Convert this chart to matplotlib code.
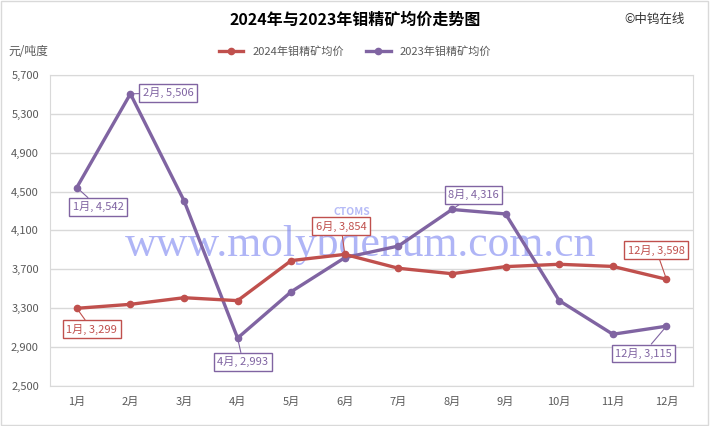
import matplotlib.pyplot as plt
from matplotlib.patches import Rectangle

plt.rcParams['font.family'] = ['Noto Sans CJK SC', 'DejaVu Sans']

# 数据
months = ['1月', '2月', '3月', '4月', '5月', '6月', '7月', '8月', '9月', '10月', '11月', '12月']
price_2024 = [3299, 3340, 3408, 3378, 3790, 3854, 3711, 3655, 3728, 3752, 3730, 3598]
price_2023 = [4542, 5506, 4407, 2993, 3470, 3820, 3940, 4316, 4270, 3378, 3032, 3115]
y_ticks = [2500, 2900, 3300, 3700, 4100, 4500, 4900, 5300, 5700]

red = '#C0504D'
purple = '#8064A2'

fig = plt.figure(figsize=(7.1, 4.26), dpi=100)
fig.patches.append(Rectangle((0.002, 0.003), 0.995, 0.994, transform=fig.transFigure,
                             fill=False, edgecolor='#D9D9D9', lw=1))
ax = fig.add_axes([0.0704, 0.094, 0.906, 0.730])

x = list(range(len(months)))
ax.plot(x, price_2024, color=red, lw=2.4, marker='o', ms=4.5, label='2024年钼精矿均价', zorder=4)
ax.plot(x, price_2023, color=purple, lw=2.4, marker='o', ms=4.5, label='2023年钼精矿均价', zorder=3)

ax.set_xlim(-0.5, 11.5)
ax.set_ylim(2500, 5700)
ax.set_yticks(y_ticks)
ax.set_yticklabels([f'{v:,}' for v in y_ticks])
ax.set_xticks(x)
ax.set_xticklabels(months)
ax.tick_params(colors='#595959', labelsize=8, length=0, pad=8)
ax.grid(axis='y', color='#D9D9D9', lw=1)
ax.set_axisbelow(True)
for s in ax.spines.values():
    s.set_color('#D9D9D9')

# 水印
ax.text(5.3, 3950, 'www.molybdenum.com.cn', family='Liberation Serif', fontsize=31.5,
        color='#6E78F0', alpha=0.55, ha='center', va='center', zorder=2)
ax.text(5.13, 4290, 'CTOMS', fontsize=7.5, fontstyle='italic', fontweight='bold',
        color='#6E78F0', alpha=0.5, ha='center', va='center', zorder=2)

# 数据标签
def label(i, vals, color, dx, dy):
    ax.annotate(f'{months[i]}, {vals[i]:,}', xy=(i, vals[i]), xytext=(i + dx, vals[i] + dy),
                fontsize=8, color=color, ha='center', va='center', zorder=6,
                bbox=dict(boxstyle='square,pad=0.3', fc='white', ec=color, lw=1),
                arrowprops=dict(arrowstyle='-', color=color, lw=0.8, shrinkA=0, shrinkB=0))

label(0, price_2023, purple, 0.4, -200)
label(1, price_2023, purple, 0.7, 10)
label(3, price_2023, purple, 0.1, -245)
label(7, price_2023, purple, 0.4, 150)
label(11, price_2023, purple, -0.43, -280)
label(0, price_2024, red, 0.28, -215)
label(5, price_2024, red, -0.07, 290)
label(11, price_2024, red, -0.19, 300)

fig.text(0.5, 0.955, '2024年与2023年钼精矿均价走势图', ha='center', va='center',
         fontsize=11.5, fontweight='bold')
fig.text(0.965, 0.955, '©中钨在线', ha='right', va='center', fontsize=9, color='#333333')
fig.text(0.012, 0.878, '元/吨度', ha='left', va='center', fontsize=8.5, color='#595959')
fig.legend(loc='center', bbox_to_anchor=(0.5, 0.878), ncol=2, frameon=False, fontsize=8,
           labelcolor='#595959', handlelength=2.2, columnspacing=2)

fig.savefig('out.png', dpi=100)
